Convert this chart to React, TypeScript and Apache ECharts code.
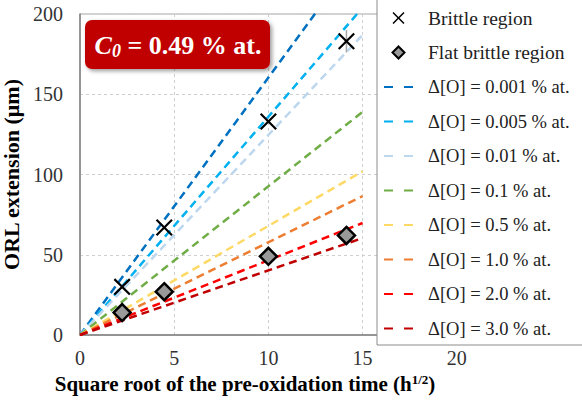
import React, { useEffect, useRef } from "react";
import * as echarts from "echarts";

const sqrtTime = [2.236, 4.472, 10, 14.142];
const brittle = [30, 67, 133, 183];
const brittleErr = [0, 0, 0, 7];
const flatBrittle = [14, 27, 49, 62];
const flatBrittleErr = [0, 0, 0, 6];

const deltaLabels = [
  "Δ[O] = 0.001 % at.",
  "Δ[O] = 0.005 % at.",
  "Δ[O] = 0.01 % at.",
  "Δ[O] = 0.1 % at.",
  "Δ[O] = 0.5 % at.",
  "Δ[O] = 1.0 % at.",
  "Δ[O] = 2.0 % at.",
  "Δ[O] = 3.0 % at.",
];
// model line values at sqrt(t) = 0 and 15
const lineX = [0, 15];
const lineEndValues = [240.6, 204, 187, 139, 102, 86.6, 69.8, 60.4];
const lineColors = ["#0070C0", "#00B0F0", "#BDD7EE", "#70AD47", "#FFD966", "#ED7D31", "#FF0000", "#C00000"];

const xTicksMax = 25;
const yTicksMax = 200;

const FONT = "'Liberation Serif'";
const CROSS =
  "path://M1.8,0 L10,8.2 L18.2,0 L20,1.8 L11.8,10 L20,18.2 L18.2,20 L10,11.8 L1.8,20 L0,18.2 L8.2,10 L0,1.8 Z";
const DIAMOND = "path://M10,0 L20,10 L10,20 L0,10 Z";

function errorBarSeries(values: number[], errs: number[]) {
  return {
    type: "custom",
    z: 3,
    silent: true,
    data: sqrtTime.map((x, i) => [x, values[i] - errs[i], values[i] + errs[i]]),
    renderItem: (_p: any, api: any) => {
      const lo = api.coord([api.value(0), api.value(1)]);
      const hi = api.coord([api.value(0), api.value(2)]);
      return {
        type: "line",
        shape: { x1: lo[0], y1: lo[1], x2: hi[0], y2: hi[1] },
        style: { stroke: "#a6a6a6", lineWidth: 1.5 },
      };
    },
  };
}

export default function App() {
  const ref = useRef<HTMLDivElement>(null);
  useEffect(() => {
    if (!ref.current) return;
    const chart = echarts.init(ref.current, undefined, { renderer: "svg" });
    const lineSeries = deltaLabels.map((name, i) => ({
      name,
      type: "line",
      data: lineX.map((x, k) => [x, k === 0 ? 0 : lineEndValues[i]]),
      symbol: "none",
      z: 2,
      lineStyle: { color: lineColors[i], width: 2.5, type: [8, 5] },
      itemStyle: { color: lineColors[i] },
    }));
    chart.setOption({
      animation: false,
      textStyle: { fontFamily: FONT },
      grid: {
        left: 80,
        top: 14,
        right: 31,
        bottom: 66,
        containLabel: false,
        outerBoundsMode: "none",
        show: true,
        borderColor: "#a6a6a6",
        borderWidth: 1,
      },
      xAxis: {
        type: "value",
        min: 0,
        max: xTicksMax,
        interval: 5,
        name: "Square root of the pre-oxidation time (h{sup|1/2})",
        nameLocation: "middle",
        nameGap: 35,
        nameTextStyle: {
          fontFamily: FONT,
          fontWeight: "bold",
          fontSize: 21,
          color: "#000",
          padding: [0, 141, 0, 0],
          rich: {
            sup: { fontFamily: FONT, fontWeight: "bold", fontSize: 13, color: "#000", padding: [0, 0, 10, 0] },
          },
        },
        axisLine: { show: true, lineStyle: { color: "#808080", width: 1.5 } },
        axisTick: { show: false },
        axisLabel: {
          showMaxLabel: false,
          fontFamily: FONT,
          fontSize: 20,
          color: "#333",
          margin: 13,
        },
        splitLine: { show: true, lineStyle: { color: "#cfcfcf", type: [3, 3], width: 1 } },
      },
      yAxis: {
        type: "value",
        min: 0,
        max: yTicksMax,
        interval: 50,
        name: "ORL extension (μm)",
        nameLocation: "middle",
        nameGap: 47,
        nameTextStyle: { fontFamily: FONT, fontWeight: "bold", fontSize: 22, color: "#000" },
        axisLine: { show: true, lineStyle: { color: "#808080", width: 1.5 } },
        axisTick: { show: false },
        axisLabel: { fontFamily: FONT, fontSize: 20, color: "#333", margin: 17 },
        splitLine: { show: true, lineStyle: { color: "#cfcfcf", type: [3, 3], width: 1 } },
      },
      legend: {
        orient: "vertical",
        left: 383,
        top: 8,
        padding: 0,
        itemWidth: 29,
        itemHeight: 12,
        itemGap: 14.5,
        z: 10,
        symbolKeepAspect: true,
        data: [
          { name: "Brittle region" },
          { name: "Flat brittle region" },
          ...deltaLabels.map((n) => ({ name: n, itemStyle: { opacity: 0 }, textStyle: { fontSize: 18.5 } })),
        ],
        textStyle: { fontFamily: FONT, fontSize: 19.5, color: "#222", lineHeight: 20, padding: [0, 0, 0, 10] },
        lineStyle: { type: [9, 11] },
      },
      graphic: [
        {
          type: "rect",
          z: 5,
          shape: { x: 377, y: -2, width: 210, height: 347 },
          style: { fill: "#fff", stroke: "#8c8c8c", lineWidth: 1 },
        },
        {
          type: "rect",
          z: 20,
          shape: { x: 85, y: 20, width: 185, height: 49, r: 7 },
          style: {
            fill: "#C00000",
            shadowBlur: 4,
            shadowOffsetX: 2,
            shadowOffsetY: 2,
            shadowColor: "rgba(0,0,0,0.4)",
          },
        },
        {
          type: "text",
          z: 21,
          x: 178,
          y: 45,
          style: {
            text: "{c|C}{s|0}{t| = 0.49 % at.}",
            align: "center",
            verticalAlign: "middle",
            rich: {
              c: { fontFamily: FONT, fontSize: 26, fontWeight: "bold", fontStyle: "italic", fill: "#fff", lineHeight: 30 },
              s: {
                fontFamily: FONT,
                fontSize: 18,
                fontWeight: "bold",
                fontStyle: "italic",
                fill: "#fff",
                lineHeight: 30,
                verticalAlign: "bottom",
                padding: [12, 0, 0, 0],
              },
              t: { fontFamily: FONT, fontSize: 26, fontWeight: "bold", fill: "#fff", lineHeight: 30 },
            },
          },
        },
      ],
      series: [
        ...lineSeries,
        errorBarSeries(brittle, brittleErr),
        errorBarSeries(flatBrittle, flatBrittleErr),
        {
          name: "Brittle region",
          type: "scatter",
          z: 4,
          symbol: CROSS,
          symbolSize: 17,
          data: sqrtTime.map((x, i) => [x, brittle[i]]),
          itemStyle: { color: "#000", opacity: 1 },
        },
        {
          name: "Flat brittle region",
          type: "scatter",
          z: 4,
          symbol: DIAMOND,
          symbolSize: 17,
          data: sqrtTime.map((x, i) => [x, flatBrittle[i]]),
          itemStyle: { color: "#999", borderColor: "#000", borderWidth: 2.5, opacity: 1 },
        },
      ],
    });
    return () => chart.dispose();
  }, []);
  return <div ref={ref} style={{ width: 582, height: 401, position: "absolute", left: 0, top: 0 }} />;
}
